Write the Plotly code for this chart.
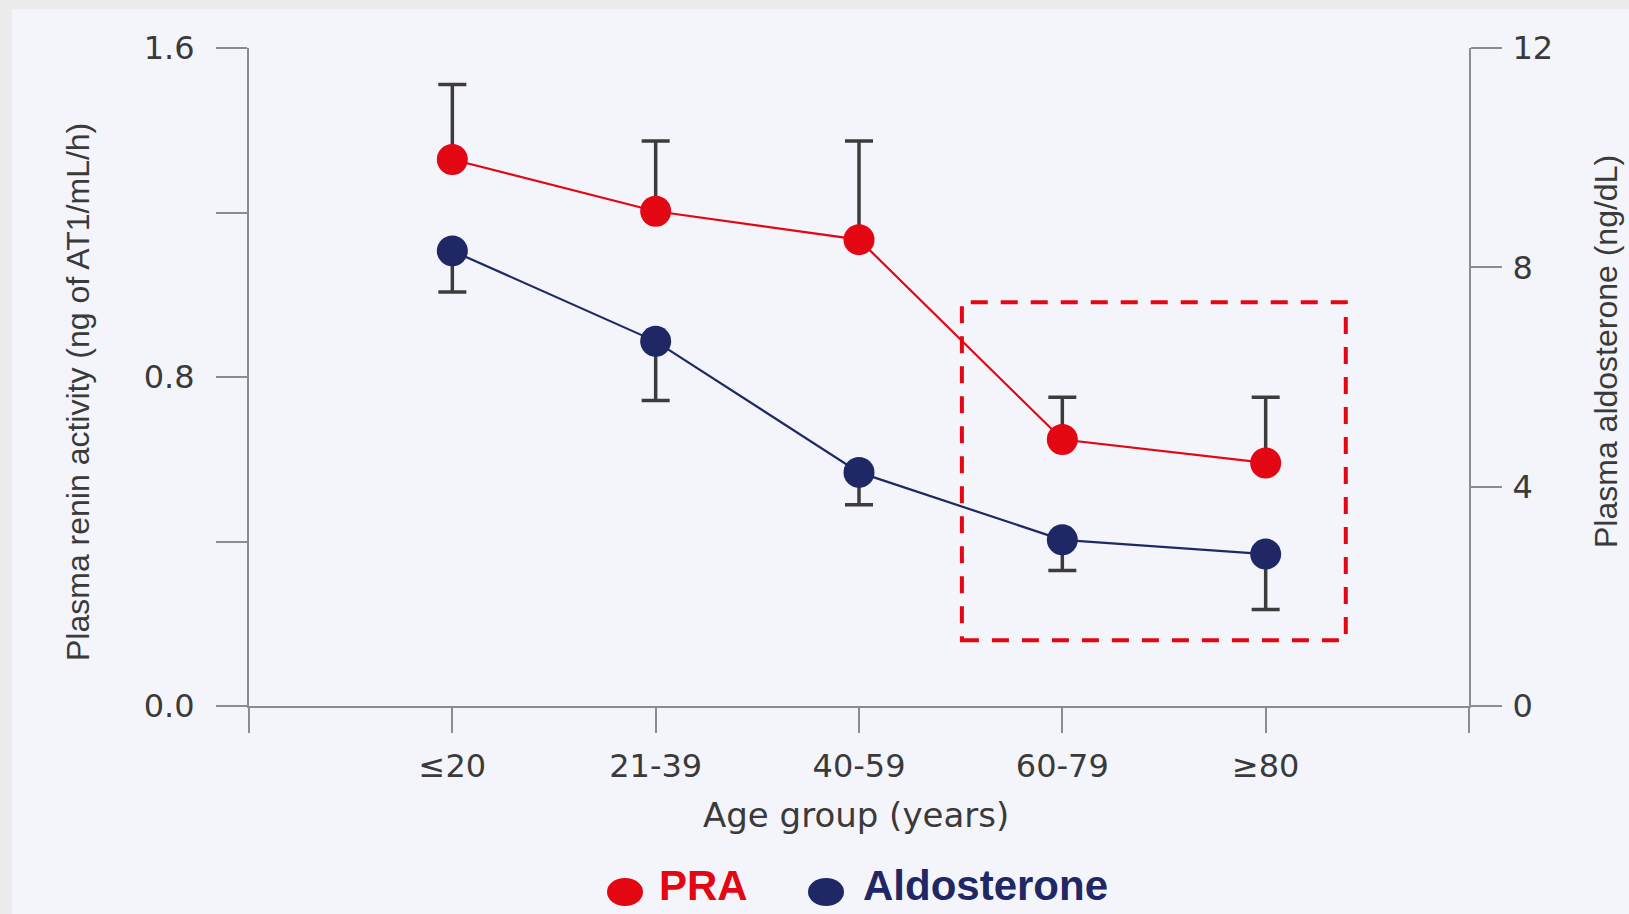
import plotly.graph_objects as go

# ---- data ----
age_groups = ["≤20", "21-39", "40-59", "60-79", "≥80"]
pra_values = [1.329, 1.203, 1.134, 0.648, 0.591]          # ng of AT1/mL/h (left axis)
pra_err_up = [0.182, 0.171, 0.240, 0.103, 0.160]
aldo_values = [8.30, 6.65, 4.26, 3.03, 2.77]             # ng/dL (right axis)
aldo_err_down = [0.75, 1.08, 0.59, 0.56, 1.01]

left_ticks = [0.0, 0.4, 0.8, 1.2, 1.6]
left_ticktext = ["0.0", "", "0.8", "", "1.6"]
right_ticks = [0, 4, 8, 12]
right_ticktext = ["0", "4", "8", "12"]

highlight_box = dict(x0=2.506, x1=4.394, y0=0.16, y1=0.982)  # dashed highlight (left-axis units)

RED = "#e30613"
NAVY = "#1f2864"
ERR = "#3c3c3c"
AXIS = "#8c8c8c"
TXT = "#3a3a3a"
PANEL = "#f4f5fa"
OUTER = "#ececec"

xpos = list(range(len(age_groups)))

fig = go.Figure()
fig.add_trace(go.Scatter(
    x=xpos, y=pra_values, mode="lines+markers", name="PRA",
    line=dict(color=RED, width=2.2),
    marker=dict(color=RED, size=31),
    error_y=dict(type="data", symmetric=False, array=pra_err_up,
                 arrayminus=[0] * len(pra_values), color=ERR, thickness=3.5, width=14),
    cliponaxis=False, showlegend=False,
))
fig.add_trace(go.Scatter(
    x=xpos, y=aldo_values, mode="lines+markers", name="Aldosterone", yaxis="y2",
    line=dict(color=NAVY, width=2.2),
    marker=dict(color=NAVY, size=31),
    error_y=dict(type="data", symmetric=False, array=[0] * len(aldo_values),
                 arrayminus=aldo_err_down, color=ERR, thickness=3.5, width=14),
    cliponaxis=False, showlegend=False,
))

W, H = 1629, 914
ml, mr, mt, mb = 249, 160, 48, 208
pw, ph = W - ml - mr, H - mt - mb


def px(xp):
    return (xp - ml) / pw


def py(yp):
    return (H - mb - yp) / ph


shapes = [
    # panel background
    dict(type="rect", xref="paper", yref="paper", x0=px(12), x1=px(1660), y0=py(950), y1=py(9),
         fillcolor=PANEL, line=dict(width=0), layer="below"),
    # dashed highlight box
    dict(type="rect", xref="x", yref="y", **highlight_box,
         line=dict(color=RED, width=4, dash="17px,13px"), fillcolor="rgba(0,0,0,0)", layer="above"),
    # legend markers
    dict(type="circle", xref="paper", yref="paper", xsizemode="pixel", ysizemode="pixel",
         xanchor=px(625), yanchor=py(892), x0=-18, x1=18, y0=-14, y1=14,
         fillcolor=RED, line=dict(width=0)),
    dict(type="circle", xref="paper", yref="paper", xsizemode="pixel", ysizemode="pixel",
         xanchor=px(826), yanchor=py(892), x0=-18, x1=18, y0=-14, y1=14,
         fillcolor=NAVY, line=dict(width=0)),
]

annotations = [
    dict(text="Plasma renin activity (ng of AT1/mL/h)", xref="paper", yref="paper",
         x=px(78), y=py(392), textangle=-90, showarrow=False, xanchor="center", yanchor="middle",
         font=dict(family="Liberation Sans, Arial", size=32, color=TXT)),
    dict(text="Plasma aldosterone (ng/dL)", xref="paper", yref="paper",
         x=px(1606), y=py(352), textangle=-90, showarrow=False, xanchor="center", yanchor="middle",
         font=dict(family="Liberation Sans, Arial", size=32, color=TXT)),
    dict(text="Age group (years)", xref="paper", yref="paper",
         x=px(856), y=py(815), showarrow=False, xanchor="center", yanchor="middle",
         font=dict(family="DejaVu Sans", size=34, color=TXT)),
    dict(text="<b>PRA</b>", xref="paper", yref="paper", x=px(657), y=py(885),
         showarrow=False, xanchor="left", yanchor="middle",
         font=dict(family="Liberation Sans, Arial", size=42, color=RED)),
    dict(text="<b>Aldosterone</b>", xref="paper", yref="paper", x=px(861), y=py(885),
         showarrow=False, xanchor="left", yanchor="middle",
         font=dict(family="Liberation Sans, Arial", size=42, color=NAVY)),
]

tickfont = dict(family="DejaVu Sans", size=32, color=TXT)

fig.update_layout(
    width=W, height=H, autosize=False,
    margin=dict(l=ml, r=mr, t=mt, b=mb, pad=0),
    paper_bgcolor=OUTER, plot_bgcolor=PANEL,
    showlegend=False,
    xaxis=dict(
        range=[-1, len(age_groups)], tickmode="array",
        tickvals=[-1] + xpos + [len(age_groups)],
        ticktext=[""] + age_groups + [""],
        showline=True, linecolor=AXIS, linewidth=2,
        ticks="outside", ticklen=25, tickwidth=2, tickcolor=AXIS,
        showgrid=False, zeroline=False, tickfont=tickfont, ticklabelstandoff=6,
    ),
    yaxis=dict(
        range=[0, 1.6], tickmode="array", tickvals=left_ticks, ticktext=left_ticktext,
        showline=True, linecolor=AXIS, linewidth=2,
        ticks="outside", ticklen=31, tickwidth=2, tickcolor=AXIS,
        showgrid=False, zeroline=False, tickfont=tickfont, ticklabelstandoff=15,
    ),
    yaxis2=dict(
        range=[0, 12], overlaying="y", side="right", anchor="x",
        tickmode="array", tickvals=right_ticks, ticktext=right_ticktext,
        showline=True, linecolor=AXIS, linewidth=2,
        ticks="outside", ticklen=31, tickwidth=2, tickcolor=AXIS,
        showgrid=False, zeroline=False, tickfont=tickfont, ticklabelstandoff=4,
    ),
    shapes=shapes,
    annotations=annotations,
)

fig.write_html(
    "out.html",
    config={"displayModeBar": False},
    post_script="document.body.style.margin='0px';document.body.style.overflow='hidden';",
)
